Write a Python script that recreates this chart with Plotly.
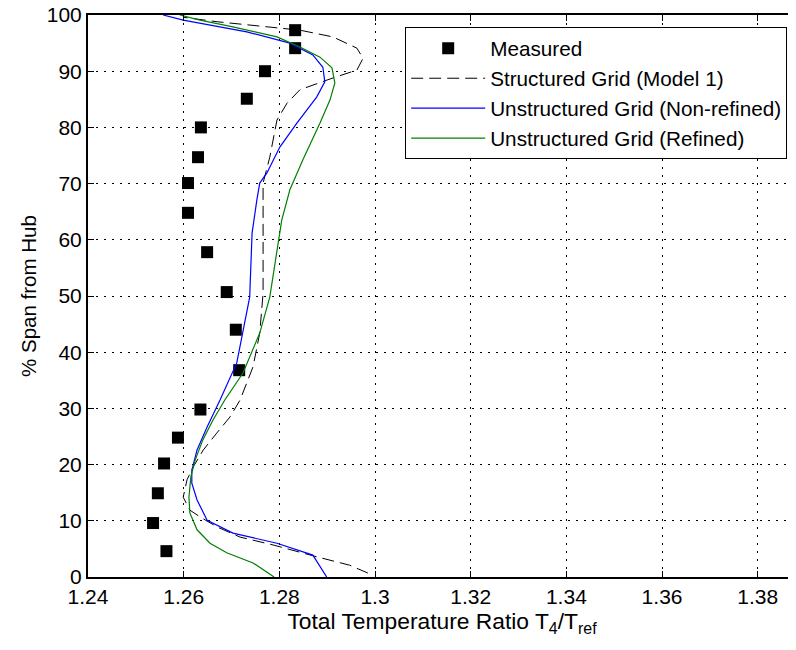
import plotly.graph_objects as go

# Measured data
meas_x = [1.2833, 1.2833, 1.2770, 1.2732, 1.2636, 1.2630, 1.2609, 1.2609, 1.2649, 1.2690,
          1.2709, 1.2716, 1.2635, 1.2588, 1.2559, 1.2546, 1.2536, 1.2564]
meas_y = [97.3, 94.1, 90.0, 85.1, 80.0, 74.7, 70.1, 64.8, 57.8, 50.7,
          44.0, 36.8, 29.8, 24.8, 20.2, 14.9, 9.6, 4.6]

# Structured Grid (Model 1)
struct_x = [1.2985, 1.2947, 1.2878, 1.2787, 1.2718, 1.2670, 1.2634, 1.2613, 1.2599, 1.2607,
            1.2620, 1.2641, 1.2669, 1.2697, 1.2718, 1.2745, 1.2759, 1.2766, 1.2766, 1.2766,
            1.2766, 1.2780, 1.2795, 1.2816, 1.2843, 1.2912, 1.2962, 1.2975, 1.2962, 1.2912,
            1.2843, 1.2774, 1.2670, 1.2599]
struct_y = [0.7, 2.1, 3.6, 5.7, 7.1, 8.9, 10.7, 11.9, 14.2, 17.3,
            19.6, 22.6, 25.6, 28.5, 31.5, 37.4, 43.4, 50.5, 61.2, 67.1,
            70.1, 74.7, 81.3, 84.3, 86.7, 88.8, 90.2, 92.3, 94.1, 96.1,
            97.3, 97.9, 98.8, 99.6]

# Unstructured Grid (Non-refined)
nonref_x = [1.2899, 1.2870, 1.2795, 1.2703, 1.2649, 1.2628, 1.2617, 1.2617, 1.2628, 1.2649,
            1.2676, 1.2711, 1.2738, 1.2743, 1.2753, 1.2759, 1.2774, 1.2801, 1.2837, 1.2878,
            1.2895, 1.2891, 1.2870, 1.2822, 1.2732, 1.2599, 1.2557]
nonref_y = [0.0, 3.9, 6.0, 7.8, 10.1, 13.7, 16.7, 19.0, 22.6, 26.7,
            31.5, 38.1, 49.8, 61.2, 67.1, 70.1, 71.9, 76.5, 80.8, 85.4,
            88.1, 90.7, 92.9, 95.0, 97.0, 99.1, 100.0]

# Unstructured Grid (Refined)
ref_x = [1.2789, 1.2745, 1.2690, 1.2655, 1.2628, 1.2613, 1.2611, 1.2615, 1.2624, 1.2640,
         1.2661, 1.2686, 1.2724, 1.2759, 1.2780, 1.2801, 1.2805, 1.2822, 1.2849, 1.2885,
         1.2906, 1.2916, 1.2910, 1.2885, 1.2843, 1.2795, 1.2703, 1.2634, 1.2592]
ref_y = [0.0, 2.5, 4.3, 6.0, 8.4, 11.4, 14.2, 17.8, 20.8, 24.4,
         27.9, 31.5, 36.3, 43.4, 49.8, 61.2, 63.5, 68.9, 74.2, 80.8,
         84.9, 87.9, 90.6, 92.5, 94.3, 96.1, 97.9, 99.1, 100.0]

x_ticks = [1.24, 1.26, 1.28, 1.30, 1.32, 1.34, 1.36, 1.38]
x_tick_labels = ["1.24", "1.26", "1.28", "1.3", "1.32", "1.34", "1.36", "1.38"]
y_ticks = [0, 10, 20, 30, 40, 50, 60, 70, 80, 90, 100]

font = "Liberation Sans, Arial, sans-serif"

fig = go.Figure()
fig.add_trace(go.Scatter(x=meas_x, y=meas_y, mode="markers", name="Measured",
                         marker=dict(symbol="square", size=12, color="black")))
fig.add_trace(go.Scatter(x=struct_x, y=struct_y, mode="lines", name="Structured Grid (Model 1)",
                         line=dict(color="black", width=1, dash="12px,6px")))
fig.add_trace(go.Scatter(x=nonref_x, y=nonref_y, mode="lines", name="Unstructured Grid (Non-refined)",
                         line=dict(color="#0000ff", width=1.2)))
fig.add_trace(go.Scatter(x=ref_x, y=ref_y, mode="lines", name="Unstructured Grid (Refined)",
                         line=dict(color="#008000", width=1.2)))

# page body has an 8px margin, so the figure is 8px smaller and shifted
fig.update_layout(
    width=788, height=642,
    margin=dict(l=80, r=0, t=7, b=73),
    paper_bgcolor="white", plot_bgcolor="white",
    font=dict(family=font, size=21, color="black"),
    showlegend=True,
    legend=dict(x=0.448, y=0.978, xanchor="left", yanchor="top",
                bgcolor="white", bordercolor="black", borderwidth=1,
                font=dict(size=20.7), itemwidth=74, tracegroupgap=0),
    xaxis=dict(range=[1.24, 1.388], tickvals=x_ticks, ticktext=x_tick_labels,
               showgrid=True, gridcolor="black", griddash="2px,6px", gridwidth=1,
               showline=True, linecolor="black", linewidth=2, mirror="ticks",
               ticks="inside", ticklen=6, tickcolor="black", zeroline=False,
               automargin=False, tickfont=dict(size=21), ticklabeloverflow="allow",
               title=dict(text="Total Temperature Ratio T<sub>4</sub>/T<sub>ref</sub>",
                          font=dict(size=22.8), standoff=2)),
    yaxis=dict(range=[0, 100], tickvals=y_ticks,
               showgrid=True, gridcolor="black", griddash="2px,6px", gridwidth=1,
               showline=True, linecolor="black", linewidth=2, mirror=False,
               ticks="inside", ticklen=6, tickcolor="black", zeroline=False,
               automargin=False, tickfont=dict(size=21), ticklabeloverflow="allow",
               title=dict(text="% Span from Hub", font=dict(size=20.5), standoff=5)),
)

fig.write_html("out.html")
